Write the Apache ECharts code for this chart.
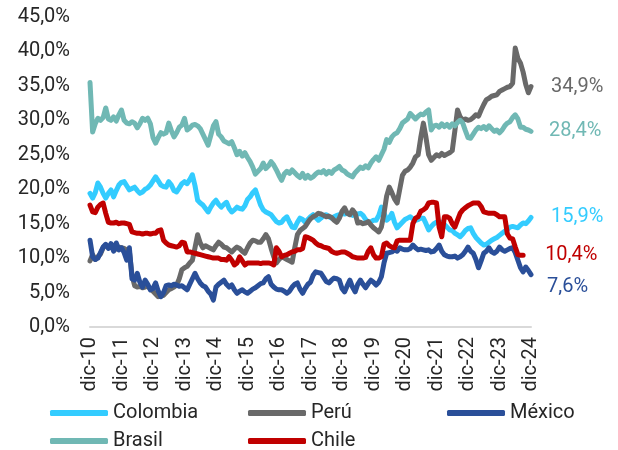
<!DOCTYPE html>
<html>
<head>
<meta charset="utf-8">
<script src="https://cdn.jsdelivr.net/npm/echarts@6/dist/echarts.min.js"></script>
<style>
  html, body { margin: 0; padding: 0; background: #fff; }
  #chart { width: 618px; height: 450px; }
</style>
</head>
<body>
<div id="chart"></div>
<script>
// Monthly series, dic-10 .. dic-24 (169 points), values in %
const monthNames = ['ene','feb','mar','abr','may','jun','jul','ago','sep','oct','nov','dic'];
const startYear = 10;   // dic-10
const endYear = 24;     // dic-24

const colombia = [19.4,
  18.7,19.5,20.9,20.3,19.4,18.7,19.4,19.9,18.9,19.8,20.6,21.0,
  21.1,20.5,19.9,20.1,20.3,19.8,19.4,19.6,20.0,20.2,20.6,21.2,
  21.8,21.2,20.6,20.4,20.3,21.1,20.6,19.8,19.6,20.2,20.8,21.1,
  20.8,21.4,22.1,20.5,18.4,18.0,17.7,17.2,16.7,17.4,18.0,18.4,
  17.8,17.4,17.8,18.1,17.2,16.7,17.0,17.4,17.2,17.1,17.6,18.5,
  18.9,19.5,19.9,18.8,17.7,17.0,16.7,16.5,16.3,15.8,15.3,15.1,
  15.2,15.7,16.0,15.2,14.5,14.4,15.2,15.8,15.6,15.2,15.6,16.0,
  16.3,15.9,15.5,15.8,16.2,16.3,16.0,15.8,16.0,16.2,16.3,16.5,
  16.4,16.5,16.4,16.2,16.3,16.4,16.5,16.2,15.6,15.2,15.3,15.5,
  15.5,16.2,17.4,16.6,15.5,15.8,16.5,15.2,14.4,14.8,15.2,15.6,
  15.8,16.0,15.7,15.5,15.6,15.8,15.8,15.0,14.1,14.6,15.0,15.2,
  15.2,15.2,14.9,14.5,14.1,14.0,13.6,13.4,13.1,13.5,14.0,14.3,
  14.4,13.6,13.0,12.6,12.2,11.9,12.0,12.3,12.6,12.8,13.0,13.3,
  13.6,13.9,14.2,14.5,14.6,14.5,14.4,14.8,15.1,15.0,15.4,15.9];

const peru = [9.6,
  10.5,9.8,10.2,10.6,11.5,11.9,11.6,11.9,11.7,11.3,11.6,11.5,
  11.4,11.2,11.0,7.5,6.0,5.8,5.9,5.7,5.8,6.0,5.5,5.2,
  4.8,4.4,4.5,4.6,5.0,5.4,5.6,5.8,6.1,7.0,8.3,8.6,
  8.8,9.3,9.7,11.5,13.4,12.2,11.5,11.8,11.6,11.4,11.2,11.8,
  12.3,12.0,11.6,11.5,11.2,10.9,11.3,11.6,11.4,11.0,10.7,11.5,
  12.2,12.6,12.5,12.3,12.3,12.8,13.4,12.8,11.4,10.2,9.3,9.8,
  10.2,10.0,9.8,9.6,9.4,11.5,13.4,14.0,14.3,14.6,15.2,15.7,
  16.0,16.2,16.5,16.4,16.2,16.0,16.1,15.9,15.5,15.2,15.8,16.8,
  17.3,16.5,16.3,17.0,16.5,15.1,15.2,15.0,15.1,15.3,14.8,14.4,
  14.1,13.8,14.5,16.5,19.0,20.3,19.5,18.6,18.0,20.0,22.0,22.6,
  22.8,23.2,23.8,24.7,25.0,27.5,29.6,27.5,25.0,24.2,24.6,25.0,
  24.8,25.2,24.9,25.1,25.3,25.6,28.5,31.5,30.5,30.0,30.2,30.0,
  30.1,30.4,30.8,30.6,31.5,32.3,33.0,33.2,33.5,33.6,33.7,34.2,
  34.4,34.6,34.8,34.9,35.4,40.5,39.0,38.3,37.0,35.2,34.0,34.9];

const mexico = [12.6,
  10.2,9.8,10.0,10.8,11.6,12.0,11.4,12.1,11.0,12.2,11.2,11.5,
  10.8,9.7,11.5,7.0,6.8,7.8,6.5,5.8,6.8,6.2,5.4,5.6,
  6.4,5.2,4.4,5.0,6.0,6.1,6.0,6.2,6.1,5.9,6.0,5.7,
  5.4,6.2,7.0,7.8,7.0,6.4,6.0,5.8,5.2,4.8,3.9,5.8,
  6.2,6.5,6.8,6.2,5.8,6.1,5.4,4.9,5.2,5.4,5.1,4.9,
  5.2,5.5,5.7,6.0,6.3,6.4,7.0,7.3,6.2,5.8,5.5,5.4,
  5.4,5.2,4.9,5.2,5.8,6.2,6.4,5.5,4.9,5.6,6.2,6.5,
  7.5,8.0,7.9,7.8,7.2,6.6,6.4,6.8,7.1,7.0,6.8,5.6,
  5.1,6.0,6.8,5.8,5.1,6.2,6.8,6.2,5.7,6.3,6.8,6.5,
  6.1,6.5,7.3,9.3,10.7,10.8,10.9,11.2,11.0,11.5,11.3,11.2,
  11.2,11.4,11.9,11.5,11.2,11.3,11.2,11.1,11.2,10.9,11.0,11.4,
  11.9,11.0,10.5,10.3,10.2,10.2,10.3,10.0,10.2,10.5,11.0,11.6,
  11.0,10.7,9.8,8.6,9.6,10.7,11.0,11.5,10.9,10.7,11.0,11.6,
  11.2,11.0,11.2,11.4,11.5,10.8,9.7,8.6,8.0,8.7,8.2,7.6];

const brasil = [35.5,
  28.3,29.5,30.3,30.0,30.4,31.8,30.2,30.0,30.5,29.9,30.8,31.5,
  30.0,29.6,29.5,29.8,29.6,28.9,29.5,30.3,30.0,30.3,29.5,27.5,
  26.7,27.5,28.2,28.0,28.2,29.6,28.5,27.6,28.2,29.0,29.3,30.3,
  28.6,28.9,29.3,29.4,29.2,28.8,28.0,27.2,26.4,27.8,29.2,29.8,
  28.0,27.6,27.0,26.8,26.6,26.9,26.0,25.0,25.5,24.8,25.3,24.6,
  24.0,23.2,22.2,22.6,23.0,23.8,23.0,23.4,24.0,23.5,22.8,22.0,
  21.3,22.2,22.6,22.3,22.8,22.4,22.0,21.7,22.3,21.6,22.0,21.6,
  21.8,22.2,22.5,22.4,22.7,22.2,22.6,22.3,22.8,23.0,23.3,22.8,
  22.6,22.2,22.0,21.8,22.4,22.8,23.2,23.0,23.4,23.1,23.8,24.3,
  24.7,24.2,25.0,25.8,27.2,26.8,27.6,28.0,28.2,28.8,29.6,29.9,
  30.2,31.0,30.6,30.2,30.6,30.9,30.8,31.2,31.5,28.6,29.2,29.3,
  29.0,29.5,29.1,29.4,29.0,29.5,29.2,29.7,30.0,29.6,28.5,27.5,
  27.4,28.0,28.6,29.0,28.8,29.1,28.7,29.2,28.8,28.4,28.6,28.2,
  28.6,29.2,29.6,29.8,30.4,30.8,30.2,29.0,29.0,28.7,28.6,28.4];

// Chile's series stops before dic-24
const chile = [17.7,
  16.7,16.6,17.4,17.8,18.0,16.5,15.2,15.1,15.1,15.2,15.0,15.1,
  15.1,15.0,14.9,13.8,13.7,13.6,13.6,13.5,13.6,13.6,13.5,13.6,
  13.6,14.0,14.1,12.6,12.2,11.9,11.8,11.7,11.6,11.8,12.3,12.2,
  10.9,10.9,10.8,10.7,10.6,10.5,10.4,10.3,10.2,10.1,10.0,10.0,
  10.0,9.8,9.8,9.7,10.2,9.7,9.0,9.3,10.2,9.6,9.0,9.3,
  9.3,9.3,9.3,9.3,9.2,9.3,9.3,9.3,9.2,9.0,11.5,11.0,
  10.2,10.4,10.5,10.7,10.9,11.0,11.2,11.2,11.4,13.1,13.0,12.8,
  12.6,12.2,11.9,11.8,11.6,11.5,11.4,11.0,10.8,10.7,10.8,10.9,
  10.9,10.7,10.5,10.2,10.1,10.0,10.0,10.0,10.1,11.0,11.5,10.5,
  10.0,10.0,10.2,12.0,12.2,11.8,11.6,11.5,12.5,12.6,12.6,12.6,
  12.6,12.6,15.0,15.8,16.0,16.8,17.0,17.3,18.0,18.1,18.1,18.0,
  14.5,13.1,16.0,16.0,15.8,15.0,14.5,15.5,16.5,17.0,17.3,17.6,
  17.8,18.0,18.0,18.0,17.5,16.7,16.6,16.5,16.5,16.5,16.3,16.0,
  16.0,16.0,13.5,12.9,12.8,11.6,10.5,10.4,10.4,null,null,null];

// Category labels: "dic-10", "ene-11", ... "dic-24"
const categories = ['dic-' + startYear];
for (let y = startYear + 1; y <= endYear; y++) {
  for (let m = 0; m < 12; m++) categories.push(monthNames[m] + '-' + y);
}

const yTicks = { min: 0, max: 45, interval: 5 };

const fmt = v => v.toFixed(1).replace('.', ',') + '%';
const FONT = 'Roboto';
const TEXT = '#262626';
const FS = 20;

function lineSeries(name, data, color, labelOffset, labelDistance) {
  return {
    name, type: 'line', data, color,
    showSymbol: false, symbol: 'none',
    connectNulls: false,
    lineStyle: { width: 5, color, cap: 'round', join: 'round' },
    endLabel: {
      show: true,
      formatter: p => fmt(p.value),
      color, fontFamily: FONT, fontSize: FS,
      distance: labelDistance,
      offset: labelOffset
    },
    emphasis: { disabled: true }
  };
}

function legendAt(name, left, top) {
  return {
    data: [name], left, top,
    icon: 'roundRect', itemWidth: 58, itemHeight: 6, itemTextGap: 1,
    textStyle: { fontFamily: FONT, fontSize: FS, color: TEXT },
    selectedMode: false
  };
}

const chart = echarts.init(document.getElementById('chart'), null, { renderer: 'canvas' });
chart.setOption({
  animation: false,
  backgroundColor: '#ffffff',
  textStyle: { fontFamily: FONT },
  grid: { left: 90, right: 87, top: 17, bottom: 123, containLabel: false },
  legend: [
    legendAt('Colombia', 45, 398),
    legendAt('Perú', 243, 398),
    legendAt('México', 442, 398),
    legendAt('Brasil', 45, 426),
    legendAt('Chile', 243, 426)
  ],
  xAxis: {
    type: 'category', data: categories, boundaryGap: false,
    axisLine: { show: true, lineStyle: { color: '#d9d9d9', width: 2 } },
    axisTick: { show: false },
    splitLine: { show: false },
    axisLabel: {
      interval: (i) => i % 12 === 0,
      rotate: 90, margin: 10,
      fontFamily: FONT, fontSize: FS, color: TEXT
    }
  },
  yAxis: {
    type: 'value', min: yTicks.min, max: yTicks.max, interval: yTicks.interval,
    axisLine: { show: false }, axisTick: { show: false }, splitLine: { show: false },
    axisLabel: { formatter: fmt, margin: 20, fontFamily: FONT, fontSize: FS, color: TEXT }
  },
  series: [
    lineSeries('Colombia', colombia, '#33CCFF', [0, 0], 20),
    lineSeries('Perú', peru, '#696969', [0, 0], 20),
    lineSeries('México', mexico, '#2A4F99', [0, 12], 16),
    lineSeries('Brasil', brasil, '#70B8B4', [0, 0], 18),
    lineSeries('Chile', chile, '#C00000', [0, 0], 22)
  ]
});
</script>
</body>
</html>
